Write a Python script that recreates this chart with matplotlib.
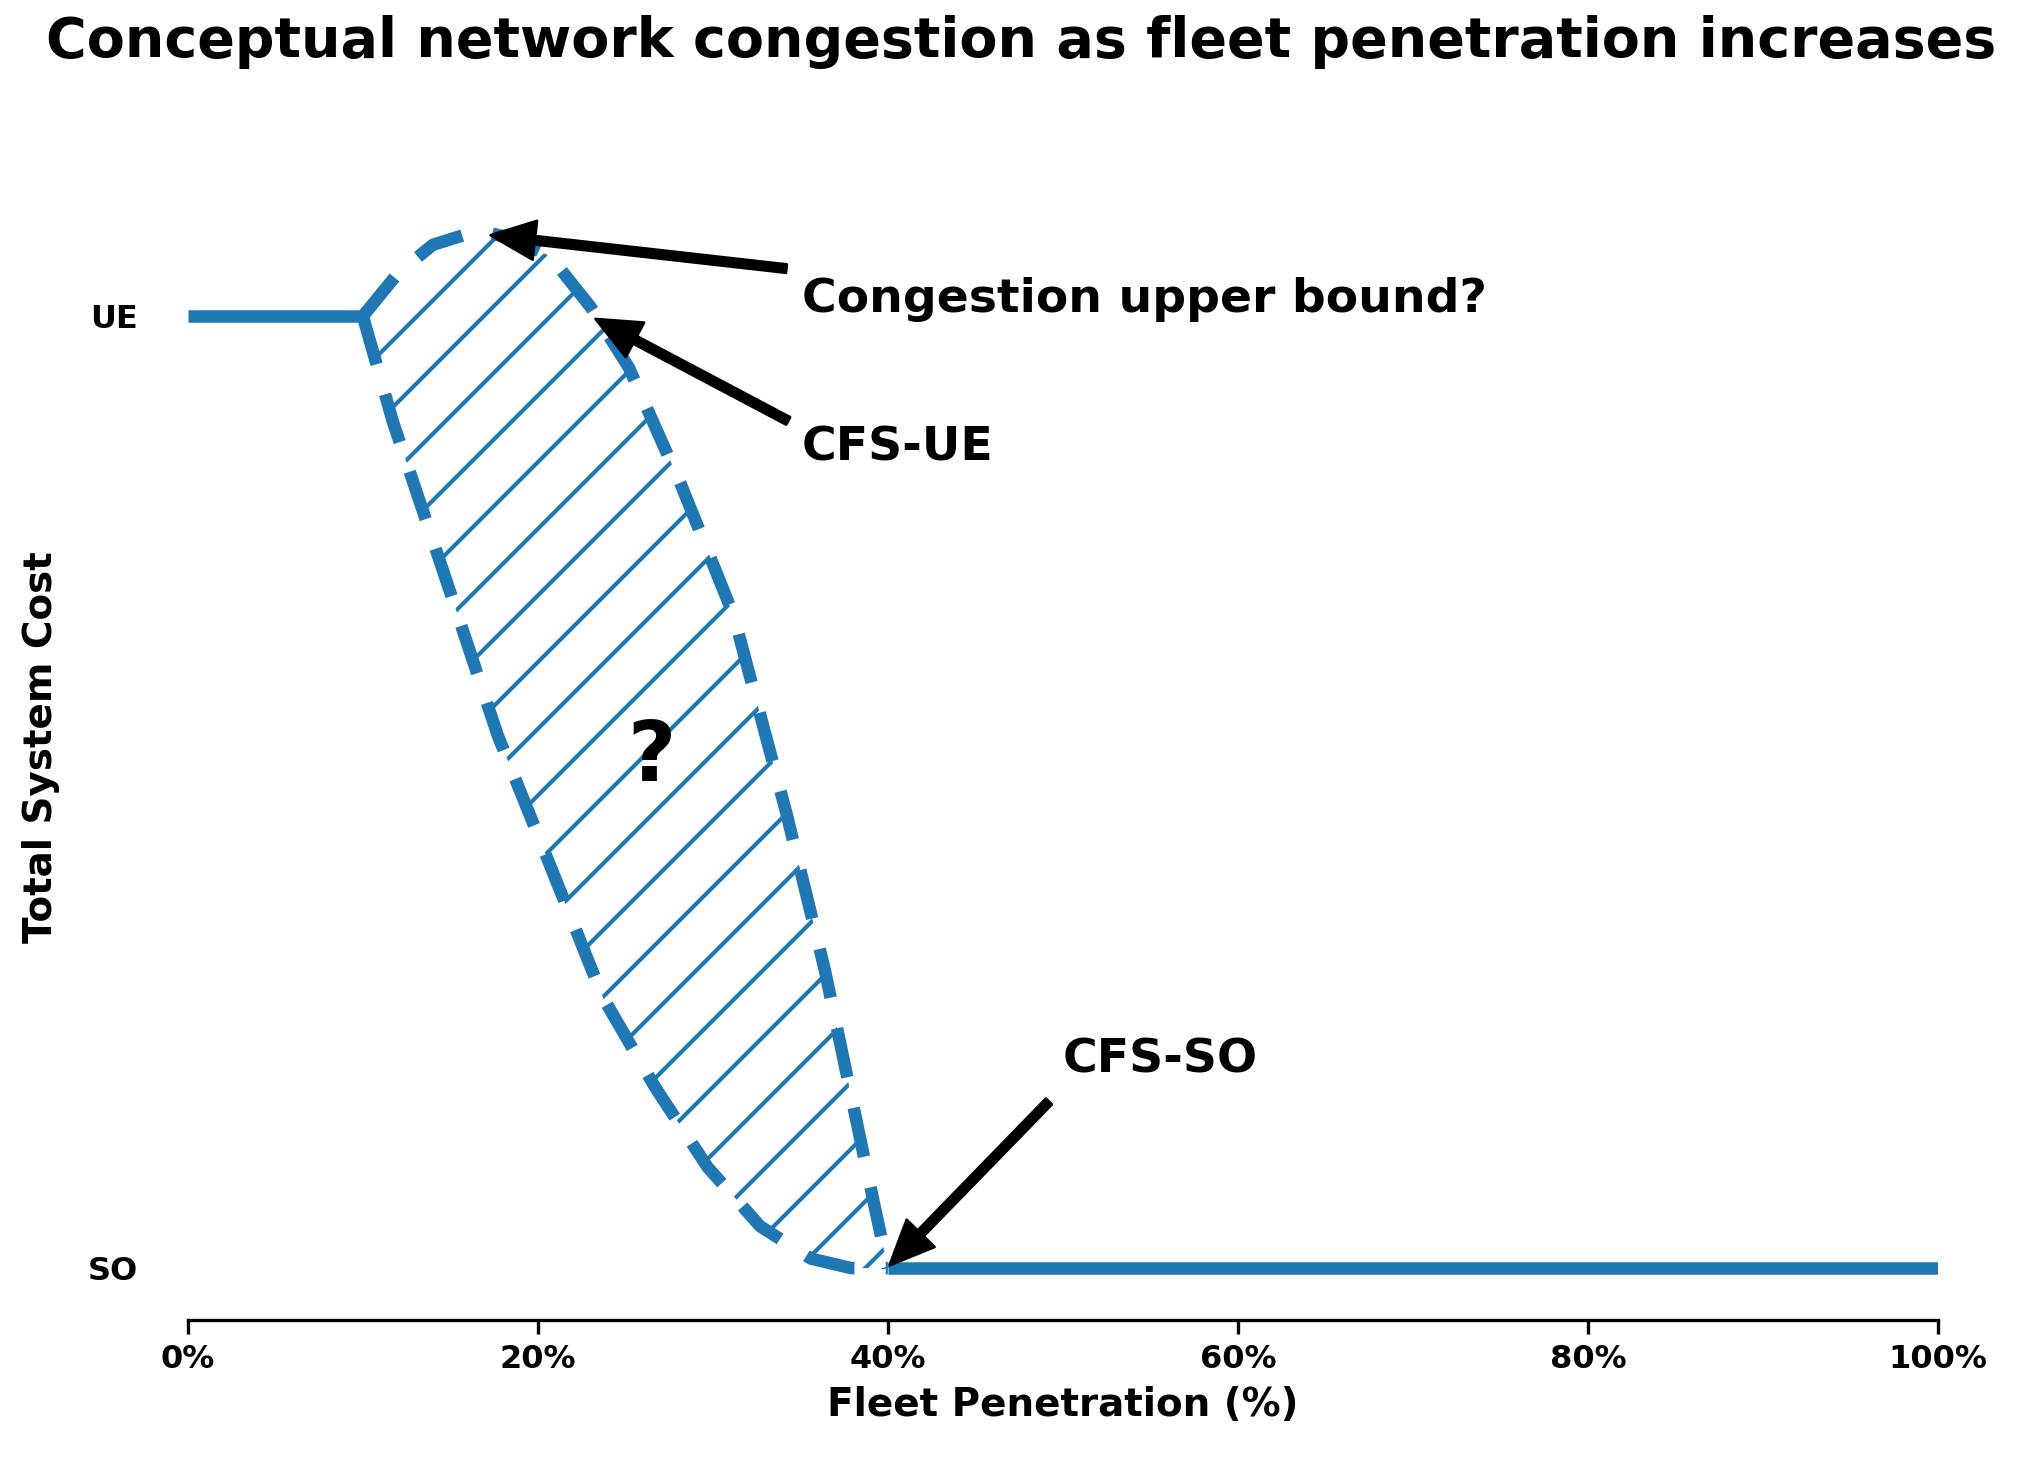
import matplotlib.pyplot as plt
import numpy as np

# data
ue_x = [0, 10]
ue_y = [1, 1]
so_x = [40, 100]
so_y = [0, 0]
upper_x = [10, 12, 14, 16.6, 18.5, 20.7, 23, 25.2, 28.2, 31.2, 34.2, 36.4, 38.6, 40]
upper_y = [1.0, 1.045, 1.075, 1.09, 1.082, 1.063, 1.01, 0.946, 0.822, 0.685, 0.478, 0.313, 0.12, 0.0]
lower_x = [10, 11.7, 14.7, 17.7, 20.7, 23.7, 26.7, 29.7, 32.7, 35.6, 37.9, 40]
lower_y = [1.0, 0.89, 0.726, 0.56, 0.423, 0.285, 0.19, 0.106, 0.044, 0.01, 0.0, 0.0]
xticks = [0, 20, 40, 60, 80, 100]
xtick_labels = ['0%', '20%', '40%', '60%', '80%', '100%']

blue = '#1f77b4'
plt.rcParams['font.weight'] = 'bold'
plt.rcParams['hatch.linewidth'] = 1.5
plt.rcParams['hatch.color'] = blue

fig = plt.figure(figsize=(10.21, 7.41), dpi=200)
ax = fig.add_axes([0.092, 0.109, 0.857, 0.774])

ax.plot(ue_x, ue_y, color=blue, lw=4.5, solid_capstyle='butt')
ax.plot(so_x, so_y, color=blue, lw=4.5, solid_capstyle='butt')

xs = np.linspace(10, 40, 300)
up = np.interp(xs, upper_x, upper_y)
lo = np.interp(xs, lower_x, lower_y)
ax.fill_between(xs, lo, up, facecolor='none', edgecolor=blue, hatch='/', linewidth=0)
ax.plot(upper_x, upper_y, color=blue, lw=4.5, ls=(0, (4, 2.5)))
ax.plot(lower_x, lower_y, color=blue, lw=4.5, ls=(0, (4, 2.5)))

ax.text(26.5, 0.536, '?', fontsize=30, ha='center', va='center', fontweight='bold')

arrow = dict(facecolor='black', edgecolor='black', width=3, headwidth=14, headlength=16)
ax.annotate('', xy=(17.3, 1.085), xytext=(34.2, 1.05), arrowprops=arrow)
ax.text(35.1, 1.018, 'Congestion upper bound?', fontsize=17, ha='left', va='center', fontweight='bold')
ax.annotate('', xy=(23.3, 0.997), xytext=(34.3, 0.89), arrowprops=arrow)
ax.text(35.1, 0.861, 'CFS-UE', fontsize=17, ha='left', va='center', fontweight='bold')
ax.annotate('', xy=(40.1, 0.003), xytext=(49.2, 0.175), arrowprops=arrow)
ax.text(50.0, 0.219, 'CFS-SO', fontsize=17, ha='left', va='center', fontweight='bold')

ax.set_xlim(0, 100)
ax.set_ylim(-0.055, 1.15)
ax.set_xticks(xticks)
ax.set_xticklabels(xtick_labels, fontsize=11.5, fontweight='bold')
ax.set_yticks([0, 1])
ax.set_yticklabels(['SO', 'UE'], fontsize=11.5, fontweight='bold')
ax.tick_params(axis='y', length=0, pad=18)
ax.tick_params(axis='x', width=1.2, length=5)
for s in ['left', 'right', 'top']:
    ax.spines[s].set_visible(False)
ax.spines['bottom'].set_linewidth(1.2)
ax.set_xlabel('Fleet Penetration (%)', fontsize=14, fontweight='bold')
ax.set_ylabel('Total System Cost', fontsize=14, fontweight='bold', labelpad=10)
fig.suptitle('Conceptual network congestion as fleet penetration increases',
             fontsize=20, fontweight='bold', x=0.5, y=0.99)

fig.savefig('out.png')
